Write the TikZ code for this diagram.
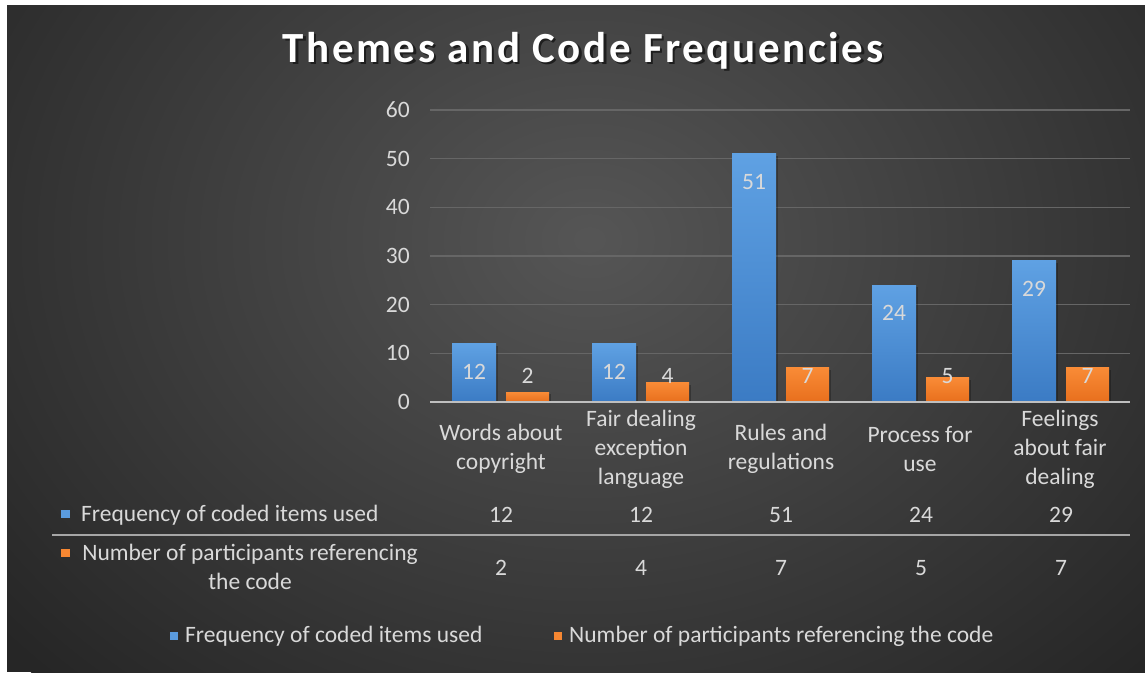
\documentclass[tikz,border=0pt]{standalone}
\usepackage{fontspec}
\setmainfont{Carlito}
\newfontfamily\titlefont[LetterSpace=6]{Carlito}
\usetikzlibrary{calc}

\definecolor{bgin}{HTML}{555555}
\definecolor{bgout}{HTML}{262626}
\definecolor{txt}{HTML}{D9D9D9}
\definecolor{blueT}{HTML}{5FA1E3}
\definecolor{blueB}{HTML}{3B7BC4}
\definecolor{orT}{HTML}{F98B36}
\definecolor{orB}{HTML}{E86F1D}
\definecolor{gridc}{HTML}{666666}
\definecolor{axisc}{HTML}{BFBFBF}
\definecolor{rulec}{HTML}{A6A6A6}
\definecolor{titleshade}{HTML}{1E1E1E}

\newcommand{\shadowed}[1]{\rlap{\kern2.5pt\raisebox{-2.5pt}{\textcolor{titleshade}{#1}}}#1}

\begin{document}
\begin{tikzpicture}[x=1pt, y=-1pt,
  font=\fontsize{23.5}{29}\selectfont,
  lbl/.style={text=txt, inner sep=0pt},
  catlbl/.style={lbl, align=center},
  keysq/.style={minimum size=8.5pt, inner sep=0pt, draw=none},
  gridline/.style={draw=gridc, line width=1.2pt},
  bluebar/.style={top color=blueT, bottom color=blueB},
  orangebar/.style={top color=orT, bottom color=orB},
  barshadow/.style={fill=black, opacity=0.25}]

% page and background: a dark panel with a soft glow built from nested ellipses
\useasboundingbox (0,0) rectangle (1145,672);
\fill[white] (0,0) rectangle (1145,672);
\begin{scope}
  \clip (7,5) rectangle (1145,672);
  \fill[bgout] (7,5) rectangle (1145,672);
  \foreach \k in {0,...,47} {
    \pgfmathsetmacro\r{1-\k/48}
    \pgfmathsetmacro\m{100*\k/47}
    \fill[bgin!\m!bgout] (590,240) ellipse [x radius=780*\r, y radius=620*\r];
  }
\end{scope}

% title with a soft drop shadow
\node (title) [text=white, font=\titlefont\bfseries\fontsize{43}{50}\selectfont, inner sep=0pt]
  at (583,52) {\shadowed{Themes and Code Frequencies}};

% gridlines and value axis labels
\foreach \v in {10,20,...,60} {
  \coordinate (gl\v) at (430,402-\v*4.867);
  \coordinate (gr\v) at (1130,402-\v*4.867);
  \draw[gridline] (gl\v) -- (gr\v);
}
\foreach \v in {0,10,...,60} {
  \node (yl\v) [lbl, anchor=east] at (410,402-\v*4.867) {\v};
}

% bars with their value labels
\foreach \i/\a/\b in {1/12/2, 2/12/4, 3/51/7, 4/24/5, 5/29/7} {
  \pgfmathsetmacro\c{500+140*(\i-1)}
  \fill[barshadow] (\c-46,402) rectangle (\c-2,402-\a*4.867+2);
  \fill[barshadow] (\c+8,402) rectangle (\c+51,402-\b*4.867+2);
  \shade[bluebar] (\c-48,402) rectangle (\c-4,402-\a*4.867);
  \shade[orangebar] (\c+6,402) rectangle (\c+49,402-\b*4.867);
  \node (bv\i) [lbl] at (\c-26,402-\a*4.867+28) {\a};
  \node (ov\i) [lbl] at (\c+27.5,376) {\b};
}

% category axis
\coordinate (axl) at (430,402);
\coordinate (axr) at (1130,402);
\draw[axisc, line width=1.6pt] (axl) -- (axr);

\node (cat1) [catlbl] at (501,449) {Words about\\copyright};
\node (cat2) [catlbl] at (641,449) {Fair dealing\\exception\\language};
\node (cat3) [catlbl] at (781,449) {Rules and\\regulations};
\node (cat4) [catlbl] at (920,449) {Process for\\use};
\node (cat5) [catlbl] at (1060,449) {Feelings\\about fair\\dealing};

% data table
\node (k1) [keysq, fill=blueT!85!blueB] at (65.5,514) {};
\node (row1) [lbl, anchor=west] at (81,515) {Frequency of coded items used};
\coordinate (rl) at (52,535);
\coordinate (rr) at (1130,535);
\draw[rulec, line width=1.6pt] (rl) -- (rr);
\node (k2) [keysq, fill=orT!85!orB] at (65.5,553) {};
\node (row2) [catlbl] at (250,567) {Number of participants referencing\\the code};

\foreach \i/\a/\b in {1/12/2, 2/12/4, 3/51/7, 4/24/5, 5/29/7} {
  \pgfmathsetmacro\c{501+140*(\i-1)}
  \node (ta\i) [lbl] at (\c,515) {\a};
  \node (tb\i) [lbl] at (\c,568) {\b};
}

% legend
\node (lk1) [keysq, fill=blueT!85!blueB] at (174,636) {};
\node (lt1) [lbl, anchor=west] at (185,636) {Frequency of coded items used};
\node (lk2) [keysq, fill=orT!85!orB] at (558,636) {};
\node (lt2) [lbl, anchor=west] at (569,636) {Number of participants referencing the code};
\end{tikzpicture}
\end{document}
